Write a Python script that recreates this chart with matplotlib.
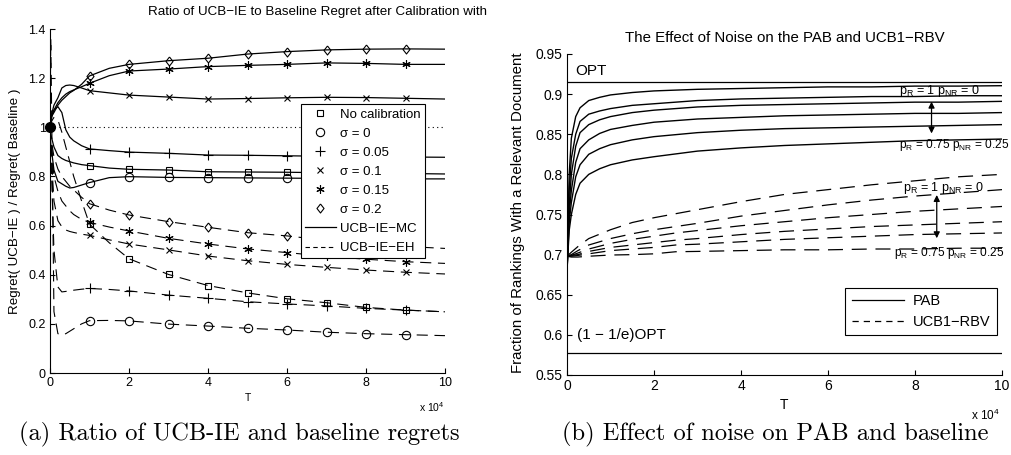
import numpy as np
import matplotlib
matplotlib.use('Agg')
import matplotlib.pyplot as plt
from matplotlib.lines import Line2D
from matplotlib.ticker import FormatStrFormatter

plt.rcParams['font.family'] = ['Liberation Sans', 'DejaVu Sans']
plt.rcParams['mathtext.fontset'] = 'custom'
plt.rcParams['mathtext.rm'] = 'Liberation Sans'
plt.rcParams['mathtext.it'] = 'Liberation Sans:italic'

# ---------------- (a) 数据: UCB-IE / baseline regret 比值 ----------------
T_a = [0, 0.02, 0.1, 0.2, 0.3, 0.4, 0.5, 0.6, 0.8, 1, 1.5, 2, 3, 4, 5, 6, 7, 8, 9, 10]

mc_nocal = [1.0, 0.97, 0.92, 0.885, 0.873, 0.865, 0.86, 0.855, 0.848, 0.844, 0.834, 0.829, 0.826, 0.819, 0.818, 0.817, 0.815, 0.813, 0.812, 0.81]
mc_s000 = [1.0, 0.93, 0.826, 0.78, 0.77, 0.76, 0.753, 0.755, 0.765, 0.775, 0.795, 0.799, 0.796, 0.795, 0.794, 0.793, 0.792, 0.791, 0.79, 0.79]
mc_s005 = [1.0, 1.03, 1.07, 1.084, 1.06, 0.99, 0.96, 0.945, 0.925, 0.912, 0.905, 0.899, 0.894, 0.887, 0.886, 0.884, 0.882, 0.88, 0.879, 0.878]
mc_s010 = [1.0, 1.04, 1.09, 1.12, 1.16, 1.17, 1.172, 1.17, 1.16, 1.149, 1.14, 1.131, 1.123, 1.115, 1.117, 1.12, 1.122, 1.121, 1.118, 1.115]
mc_s015 = [1.0, 1.04, 1.07, 1.10, 1.12, 1.135, 1.145, 1.152, 1.165, 1.179, 1.21, 1.229, 1.237, 1.247, 1.252, 1.256, 1.262, 1.26, 1.256, 1.256]
mc_s020 = [1.0, 1.04, 1.06, 1.09, 1.11, 1.125, 1.14, 1.15, 1.175, 1.209, 1.24, 1.256, 1.271, 1.281, 1.298, 1.308, 1.315, 1.318, 1.319, 1.318]

eh_nocal = [1.0, 1.02, 1.04, 1.03, 0.98, 0.92, 0.86, 0.8, 0.7, 0.606, 0.53, 0.465, 0.401, 0.356, 0.326, 0.302, 0.286, 0.267, 0.256, 0.249]
eh_s000 = [1.0, 1.36, 0.25, 0.16, 0.155, 0.16, 0.17, 0.18, 0.2, 0.213, 0.214, 0.212, 0.199, 0.191, 0.182, 0.175, 0.166, 0.16, 0.156, 0.152]
eh_s005 = [1.0, 0.9, 0.5, 0.35, 0.33, 0.332, 0.335, 0.337, 0.341, 0.344, 0.34, 0.334, 0.317, 0.304, 0.29, 0.281, 0.273, 0.263, 0.256, 0.249]
eh_s010 = [1.0, 0.92, 0.7, 0.62, 0.595, 0.582, 0.576, 0.572, 0.565, 0.56, 0.542, 0.525, 0.501, 0.476, 0.457, 0.442, 0.43, 0.419, 0.41, 0.403]
eh_s015 = [1.0, 0.95, 0.8, 0.74, 0.7, 0.68, 0.66, 0.645, 0.625, 0.613, 0.594, 0.578, 0.548, 0.525, 0.505, 0.49, 0.475, 0.463, 0.453, 0.446]
eh_s020 = [1.0, 0.96, 0.88, 0.83, 0.8, 0.78, 0.76, 0.745, 0.715, 0.689, 0.663, 0.643, 0.616, 0.593, 0.571, 0.558, 0.54, 0.525, 0.515, 0.507]

labels_a = ['No calibration', 'σ = 0', 'σ = 0.05', 'σ = 0.1', 'σ = 0.15', 'σ = 0.2']
diamond = [(0, 1), (0.78, 0), (0, -1), (-0.78, 0), (0, 1)]  # MATLAB 风格菱形
markers_a = ['s', 'o', '+', 'x', (6, 2, 0), diamond]
msizes_a = [5, 6, 7, 5, 6, 6.5]

# ---------------- (b) 数据: 噪声对 PAB 和 UCB1-RBV 的影响 ----------------
T_pab = [0, 0.05, 0.1, 0.2, 0.3, 0.5, 0.75, 1, 1.5, 2, 3, 4, 5, 6, 7, 8, 9, 10]
pab_1 = [0.68, 0.80, 0.845, 0.872, 0.883, 0.892, 0.896, 0.899, 0.902, 0.904, 0.906, 0.907, 0.908, 0.909, 0.909, 0.910, 0.910, 0.9105]
pab_2 = [0.68, 0.78, 0.82, 0.85, 0.866, 0.875, 0.879, 0.882, 0.886, 0.888, 0.892, 0.894, 0.895, 0.896, 0.897, 0.897, 0.898, 0.898]
pab_3 = [0.68, 0.76, 0.80, 0.835, 0.852, 0.862, 0.868, 0.872, 0.877, 0.880, 0.884, 0.886, 0.887, 0.888, 0.889, 0.890, 0.890, 0.891]
pab_4 = [0.68, 0.75, 0.78, 0.815, 0.832, 0.843, 0.851, 0.856, 0.861, 0.865, 0.869, 0.871, 0.873, 0.874, 0.875, 0.876, 0.876, 0.877]
pab_5 = [0.68, 0.74, 0.765, 0.797, 0.812, 0.825, 0.832, 0.837, 0.843, 0.847, 0.852, 0.855, 0.857, 0.858, 0.859, 0.860, 0.861, 0.862]
pab_6 = [0.68, 0.73, 0.75, 0.775, 0.789, 0.80, 0.807, 0.812, 0.818, 0.822, 0.829, 0.833, 0.836, 0.838, 0.840, 0.842, 0.843, 0.844]

T_rbv = [0, 0.1, 0.25, 0.5, 1, 1.5, 2, 2.5, 3, 4, 5, 6, 7, 8, 9, 10]
rbv_1 = [0.698, 0.703, 0.710, 0.720, 0.731, 0.740, 0.746, 0.751, 0.756, 0.766, 0.775, 0.781, 0.787, 0.792, 0.797, 0.800]
rbv_2 = [0.698, 0.700, 0.705, 0.712, 0.720, 0.726, 0.731, 0.735, 0.739, 0.748, 0.755, 0.762, 0.768, 0.773, 0.777, 0.781]
rbv_3 = [0.698, 0.699, 0.702, 0.707, 0.714, 0.719, 0.723, 0.727, 0.730, 0.736, 0.741, 0.746, 0.750, 0.754, 0.757, 0.760]
rbv_4 = [0.698, 0.699, 0.700, 0.704, 0.709, 0.712, 0.715, 0.718, 0.720, 0.725, 0.729, 0.732, 0.735, 0.737, 0.739, 0.741]
rbv_5 = [0.698, 0.698, 0.699, 0.701, 0.705, 0.707, 0.709, 0.712, 0.713, 0.716, 0.719, 0.721, 0.723, 0.725, 0.726, 0.727]
rbv_6 = [0.698, 0.697, 0.697, 0.698, 0.6995, 0.700, 0.701, 0.7036, 0.704, 0.705, 0.706, 0.706, 0.707, 0.707, 0.708, 0.708]

opt_value = 0.915
greedy_value = 0.578

# ---------------- 画布 ----------------
W, H = 1011, 455
fig = plt.figure(figsize=(W / 100, H / 100), dpi=100)

def px_box(l, t, r, b):
    return [l / W, 1 - b / H, (r - l) / W, (b - t) / H]

def matlab_axes(ax, fs):
    for s in ['top', 'right']:
        ax.spines[s].set_visible(False)
    for s in ['left', 'bottom']:
        ax.spines[s].set_linewidth(0.8)
    ax.tick_params(direction='in', length=3.5, width=0.8, labelsize=fs, pad=3)
    ax.yaxis.set_major_formatter(FormatStrFormatter('%g'))
    ax.xaxis.set_major_formatter(FormatStrFormatter('%g'))

# ======== (a) ========
ax1 = fig.add_axes(px_box(50, 29, 445, 373))
T_a = np.array(T_a)
mark_idx = [int(i) for i in np.where(np.isin(T_a, np.arange(1, 10)))[0]]

ax1.plot([0, 10], [1, 1], ls=(0, (1, 3)), color='black', lw=0.8)

mc_all = [mc_nocal, mc_s000, mc_s005, mc_s010, mc_s015, mc_s020]
eh_all = [eh_nocal, eh_s000, eh_s005, eh_s010, eh_s015, eh_s020]
for mc, eh, m, ms in zip(mc_all, eh_all, markers_a, msizes_a):
    ax1.plot(T_a, mc, color='black', lw=0.9, marker=m, markevery=mark_idx,
             ms=ms, mfc='none', mec='black', mew=0.8)
    ax1.plot(T_a, eh, color='black', lw=0.8, dashes=(10, 6), marker=m, markevery=mark_idx,
             ms=ms, mfc='none', mec='black', mew=0.8)

ax1.plot([0], [1], 'o', color='black', ms=7, clip_on=False, zorder=5)

ax1.set_xlim(0, 10)
ax1.set_ylim(0, 1.4)
ax1.set_xticks(range(0, 11, 2))
ax1.set_yticks(np.arange(0, 1.41, 0.2))
matlab_axes(ax1, 9)

handles = [Line2D([], [], ls='none', marker=m, ms=ms, mfc='none', mec='black', mew=0.8)
           for m, ms in zip(markers_a, msizes_a)]
handles += [Line2D([], [], color='black', lw=0.9),
            Line2D([], [], color='black', lw=0.8, dashes=(4, 3))]
leg = ax1.legend(handles, labels_a + ['UCB−IE−MC', 'UCB−IE−EH'],
                 loc='upper right', bbox_to_anchor=(0.949, 0.781), fontsize=9.5,
                 frameon=True, fancybox=False, edgecolor='black', framealpha=1,
                 handlelength=2.4, handletextpad=0.3, labelspacing=0.52, borderpad=0.3,
                 borderaxespad=0)
leg.get_frame().set_linewidth(0.8)

ax1.text(0.5, -0.073, 'T', transform=ax1.transAxes, ha='center', va='center', fontsize=7.5)
ax1.text(1.0, -0.1, r'x 10$^{4}$', transform=ax1.transAxes, ha='right', va='center', fontsize=7.5)
fig.text(318 / W, 1 - 12 / H, 'Ratio of UCB−IE to Baseline Regret after Calibration with',
         ha='center', va='center', fontsize=9.6)
fig.text(15 / W, 1 - 201 / H, 'Regret( UCB−IE ) / Regret( Baseline )',
         rotation=90, ha='center', va='center', fontsize=9.6)

# ======== (b) ========
ax2 = fig.add_axes(px_box(567, 54, 1002, 375))
ax2.axhline(opt_value, color='black', lw=0.9)
ax2.axhline(greedy_value, color='black', lw=0.9)
for curve in [pab_1, pab_2, pab_3, pab_4, pab_5, pab_6]:
    ax2.plot(T_pab, curve, color='black', lw=1.0)
for curve in [rbv_1, rbv_2, rbv_3, rbv_4, rbv_5, rbv_6]:
    ax2.plot(T_rbv, curve, color='black', lw=0.9, dashes=(12, 7))

ax2.set_xlim(0, 10)
ax2.set_ylim(0.55, 0.95)
ax2.set_xticks(range(0, 11, 2))
ax2.set_yticks(np.arange(0.55, 0.951, 0.05))
matlab_axes(ax2, 10)

ax2.text(0.18, 0.929, 'OPT', fontsize=11, ha='left', va='center')
ax2.text(0.22, 0.600, '(1 − 1/e)OPT', fontsize=11, ha='left', va='center')

lab_hi = r'p$_{\mathrm{R}}$ = 1 p$_{\mathrm{NR}}$ = 0'
lab_lo = r'p$_{\mathrm{R}}$ = 0.75 p$_{\mathrm{NR}}$ = 0.25'
ax2.text(8.57, 0.904, lab_hi, fontsize=9, ha='center', va='center')
ax2.text(8.9, 0.836, lab_lo, fontsize=8.6, ha='center', va='center')
ax2.text(8.66, 0.783, lab_hi, fontsize=9, ha='center', va='center')
ax2.text(8.78, 0.702, lab_lo, fontsize=8.6, ha='center', va='center')
arrow = dict(arrowstyle='<|-|>', color='black', lw=0.9, mutation_scale=9, shrinkA=0, shrinkB=0)
ax2.annotate('', xy=(8.38, 0.8906), xytext=(8.38, 0.851), arrowprops=arrow)
ax2.annotate('', xy=(8.5, 0.7743), xytext=(8.5, 0.7204), arrowprops=arrow)

leg2 = ax2.legend([Line2D([], [], color='black', lw=0.9),
                   Line2D([], [], color='black', lw=0.9, dashes=(5, 4))],
                  ['PAB', 'UCB1−RBV'], loc='upper right', bbox_to_anchor=(0.9885, 0.272),
                  fontsize=10.5, frameon=True, fancybox=False, edgecolor='black', framealpha=1,
                  handlelength=3.6, handletextpad=0.6, labelspacing=0.45, borderpad=0.45,
                  borderaxespad=0)
leg2.get_frame().set_linewidth(0.8)

ax2.text(0.5, -0.093, 'T', transform=ax2.transAxes, ha='center', va='center', fontsize=10)
ax2.text(0.995, -0.125, r'x 10$^{4}$', transform=ax2.transAxes, ha='right', va='center', fontsize=8.5)
fig.text(785 / W, 1 - 38 / H, 'The Effect of Noise on the PAB and UCB1−RBV',
         ha='center', va='center', fontsize=10.8)
fig.text(518 / W, 1 - 213 / H, 'Fraction of Rankings With a Relevant Document',
         rotation=90, ha='center', va='center', fontsize=10.8)

# ---------------- 子图说明 ----------------
fig.text(239 / W, 1 - 434 / H, '(a) Ratio of UCB-IE and baseline regrets',
         family='cmr10', fontsize=17.6, ha='center', va='center')
fig.text(775 / W, 1 - 434 / H, '(b) Effect of noise on PAB and baseline',
         family='cmr10', fontsize=17.6, ha='center', va='center')

fig.savefig('out.png', dpi=100)
